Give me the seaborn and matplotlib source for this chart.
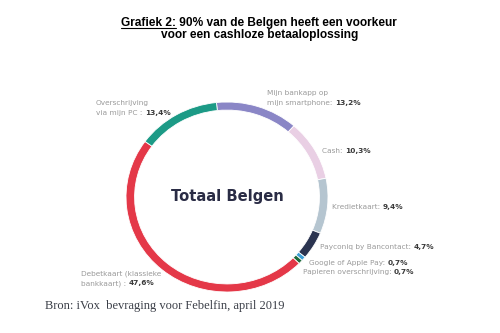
import matplotlib
matplotlib.use("Agg")
import matplotlib.pyplot as plt
import seaborn as sns
from matplotlib.lines import Line2D

sns.set_theme(style="white")
plt.rcParams["font.family"] = ["DejaVu Sans"]

# Payment preferences, clockwise from the top
categories = [
    "Mijn bankapp op mijn smartphone",
    "Cash",
    "Kredietkaart",
    "Payconiq by Bancontact",
    "Google of Apple Pay",
    "Papieren overschrijving",
    "Debetkaart (klassieke bankkaart)",
    "Overschrijving via mijn PC",
]
shares = [13.2, 10.3, 9.4, 4.7, 0.7, 0.7, 47.6, 13.4]
label_lines = [
    ["Mijn bankapp op", "mijn smartphone: "],
    ["Cash: "],
    ["Kredietkaart: "],
    ["Payconiq by Bancontact: "],
    ["Google of Apple Pay: "],
    ["Papieren overschrijving: "],
    ["Debetkaart (klassieke", "bankkaart) : "],
    ["Overschrijving", "via mijn PC : "],
]
colors = ["#8a86c6", "#e9cfe4", "#b5c5d0", "#2b3450", "#3c9fd6",
          "#1f6b3b", "#e43848", "#1c9a86"]

# label anchor (left x, first line y) in pixels
label_pos = [(267, 93), (322, 151), (332, 207), (320, 247),
             (309, 263), (303, 272), (81, 274), (96, 103)]

W, H = 500, 333
fig = plt.figure(figsize=(W / 100, H / 100), dpi=100)
fig.patch.set_facecolor("white")


def fx(x):
    return x / W


def fy(y):
    return 1 - y / H


# donut
ax = fig.add_axes([fx(126), fy(292), 202 / W, 190 / H])
ax.pie(shares, colors=colors, startangle=96, counterclock=False,
       radius=1.0, wedgeprops=dict(width=0.085, edgecolor="white", linewidth=0.6))
ax.set_aspect("auto")
ax.set_xlim(-1, 1)
ax.set_ylim(-1, 1)
ax.axis("off")

ax.text(0, 0.01, "Totaal Belgen", ha="center", va="center", fontsize=10.6,
        fontweight="bold", color="#2a2c45")

fig.canvas.draw()
renderer = fig.canvas.get_renderer()


def text_width(t):
    return t.get_window_extent(renderer=renderer).width


label_fs = 5.3
line_h = 9.5
for lines, val, (x, y) in zip(label_lines, shares, label_pos):
    for i, ln in enumerate(lines):
        yy = y + i * line_h
        t = fig.text(fx(x), fy(yy), ln, fontsize=label_fs, color="#9a9a9a",
                     ha="left", va="center")
        if i == len(lines) - 1:
            w = text_width(t)
            fig.text(fx(x + w), fy(yy), f"{val:.1f}%".replace(".", ","),
                     fontsize=label_fs, fontweight="bold", color="#3a3a3a",
                     ha="left", va="center")

# title with underlined prefix
title_font = ["Liberation Sans", "DejaVu Sans"]
prefix = "Grafiek 2:"
line1 = prefix + " 90% van de Belgen heeft een voorkeur"
t1 = fig.text(fx(259), fy(26), line1, ha="center", va="baseline", fontsize=8.6,
              fontweight="bold", family=title_font, color="black")
fig.text(fx(260), fy(38), "voor een cashloze betaaloplossing", ha="center",
         va="baseline", fontsize=8.6, fontweight="bold", family=title_font,
         color="black")
bb = t1.get_window_extent(renderer=renderer)
tp = fig.text(0, 0, prefix, fontsize=8.6, fontweight="bold", family=title_font)
pw = text_width(tp)
tp.remove()
uy = H - 27.5
fig.add_artist(Line2D([bb.x0 / W, (bb.x0 + pw) / W], [uy / H, uy / H],
                      transform=fig.transFigure, color="black", linewidth=0.8))

# source note
fig.text(fx(45), fy(306), "Bron: iVox  bevraging voor Febelfin, april 2019",
         ha="left", va="center", fontsize=9, family=["Liberation Serif", "DejaVu Serif"],
         color="#3b3f48")

fig.savefig("out.png", dpi=100, facecolor="white")
